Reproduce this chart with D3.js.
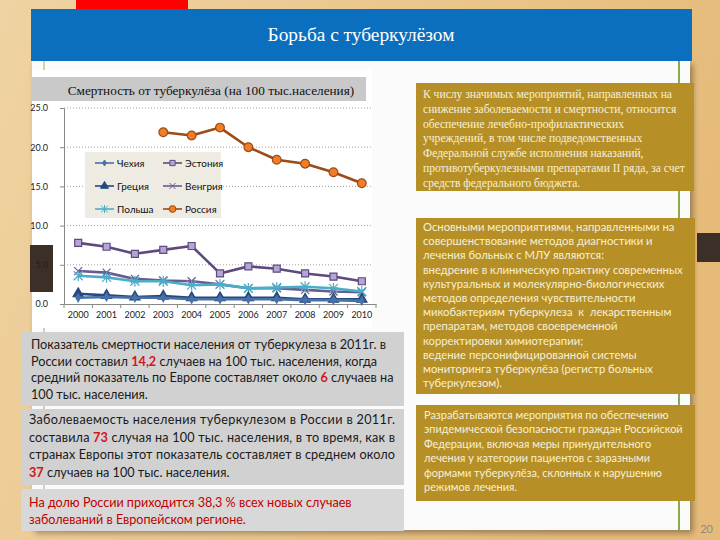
<!DOCTYPE html>
<html><head><meta charset="utf-8">
<script src="https://cdn.jsdelivr.net/npm/d3@7"></script>
<style>body{margin:0;background:#e8c588} svg{display:block}</style>
</head><body><svg id="s" width="720" height="540"></svg>
<script>
// ---------- data ----------
const years = ["2000","2001","2002","2003","2004","2005","2006","2007","2008","2009","2010"];
const czech   = [0.8, 0.9, 0.8, 0.8, 0.6, 0.6, 0.6, 0.6, 0.5, 0.5, 0.4];
const estonia = [7.8, 7.3, 6.4, 6.9, 7.4, 3.9, 4.8, 4.5, 3.9, 3.5, 2.9];
const greece  = [1.3, 1.1, 0.9, 1.0, 0.8, 0.8, 0.8, 0.8, 0.6, 0.6, 0.6];
const hungary = [4.2, 4.0, 3.2, 3.0, 2.9, 2.5, 2.0, 2.0, 1.8, 1.6, 1.5];
const poland  = [3.6, 3.4, 2.9, 2.9, 2.4, 2.5, 2.0, 2.1, 2.2, 2.0, 1.6];
const russia  = [null, null, null, 21.9, 21.5, 22.5, 20.0, 18.4, 17.9, 16.8, 15.4];
const seriesNames = ["Чехия","Эстония","Греция","Венгрия","Польша","Россия"];
const yTicks = [0, 5, 10, 15, 20, 25];

const headerTitle = "Борьба с туберкулёзом";
const chartTitle = "Смертность от туберкулёза (на 100 тыс.населения)";
const pageNumber = "20";

const leftText1 = [
  [["Показатель смертности населения от туберкулеза в 2011г. в"]],
  [["России составил "],["14,2","r"],[" случаев на 100 тыс. населения, когда"]],
  [["средний показатель по Европе составляет около "],["6","r"],[" случаев на"]],
  [["100 тыс. населения."]]
];
const leftText2 = [
  [["Заболеваемость населения туберкулезом в России в 2011г."]],
  [["составила "],["73","r"],[" случая на 100 тыс. населения, в то время, как в"]],
  [["странах Европы этот показатель составляет в среднем около"]],
  [["37","r"],[" случаев на 100 тыс. населения."]]
];
const leftText3 = [
  "На долю России приходится 38,3 % всех новых случаев",
  "заболеваний в Европейском регионе."
];
const goldText1 = [
  "К числу значимых мероприятий, направленных на",
  "снижение заболеваемости и смертности, относится",
  "обеспечение лечебно-профилактических",
  "учреждений, в том числе подведомственных",
  "Федеральной службе исполнения наказаний,",
  "противотуберкулезными препаратами II ряда, за счет",
  "средств федерального бюджета."
];
const goldText2 = [
  "Основными мероприятиями, направленными на",
  "совершенствование методов диагностики и",
  "лечения больных с МЛУ являются:",
  "внедрение в клиническую практику современных",
  "культуральных и молекулярно-биологических",
  "методов определения чувствительности",
  "микобактериям туберкулеза  к  лекарственным",
  "препаратам, методов своевременной",
  "корректировки химиотерапии;",
  "ведение персонифицированной системы",
  "мониторинга туберкулёза (регистр больных",
  "туберкулезом)."
];
const goldText3 = [
  "Разрабатываются мероприятия по обеспечению",
  "эпидемической безопасности граждан Российской",
  "Федерации, включая меры принудительного",
  "лечения у категории пациентов с заразными",
  "формами туберкулёза, склонных к нарушению",
  "режимов лечения."
];

// ---------- styles ----------
const seriesStyle = [
  {line:"#4a70a8", marker:"diamond", fill:"#4a70a8", stroke:"#4a70a8", size:18},
  {line:"#5e4a7c", marker:"square",  fill:"#b4a5d6", stroke:"#5e4a7c", size:7},
  {line:"#24497f", marker:"triangle",fill:"#24497f", stroke:"#24497f", size:45},
  {line:"#6b5a8f", marker:"x",       fill:"none",    stroke:"#6b5a8f", size:4},
  {line:"#4aaec8", marker:"star",    fill:"none",    stroke:"#4aaec8", size:4.5},
  {line:"#9c4a18", marker:"circle",  fill:"#f07e26", stroke:"#9c4a18", size:60}
];
const allSeries = [czech, estonia, greece, hungary, poland, russia];
const SANS = "Lato, 'Open Sans', sans-serif";
const SERIF = "'Liberation Serif', 'DejaVu Serif', serif";

const svg = d3.select("#s");
const defs = svg.append("defs");
const bg = defs.append("linearGradient").attr("id","bg").attr("x1","0").attr("x2","1").attr("y1","0").attr("y2","0.3");
bg.append("stop").attr("offset","0").attr("stop-color","#efd3a2");
bg.append("stop").attr("offset","0.5").attr("stop-color","#ebc78e");
bg.append("stop").attr("offset","1").attr("stop-color","#e6bb7a");
const f = defs.append("filter").attr("id","sh").attr("x","-5%").attr("y","-5%").attr("width","110%").attr("height","110%");
f.append("feGaussianBlur").attr("stdDeviation","3");

function fitText(t, target){
  const w = t.node().getComputedTextLength();
  t.attr("font-size", +t.attr("font-size") * target / w);
}

svg.append("rect").attr("width",720).attr("height",540).attr("fill","url(#bg)");
// decorative
svg.append("rect").attr("x",76).attr("y",0).attr("width",112).attr("height",9).attr("fill","#ff0000");
svg.append("rect").attr("x",697).attr("y",233).attr("width",23).attr("height",29).attr("fill","#3b2f27");
// panel
svg.append("rect").attr("x",35).attr("y",64).attr("width",658).attr("height",469).attr("fill","rgba(0,0,0,0.35)").attr("filter","url(#sh)");
svg.append("rect").attr("x",32).attr("y",61).attr("width",658).attr("height",469).attr("fill","#fbfbfb");
svg.append("line").attr("x1",44).attr("x2",44).attr("y1",61).attr("y2",530).attr("stroke","#c4c39c").attr("stroke-width",1.5);
svg.append("line").attr("x1",679).attr("x2",679).attr("y1",61).attr("y2",530).attr("stroke","#8aab4a").attr("stroke-width",2);
// header
svg.append("rect").attr("x",31).attr("y",9).attr("width",661).attr("height",52).attr("fill","#0a6fbe");
fitText(svg.append("text").attr("x",361).attr("y",41).attr("text-anchor","middle").attr("fill","#ffffff")
  .attr("font-family",SERIF).attr("font-size",16.5).text(headerTitle), 187);

// chart area
svg.append("rect").attr("x",32).attr("y",70).attr("width",340).attr("height",258).attr("fill","#ffffff");
svg.append("rect").attr("x",32).attr("y",77).attr("width",334).attr("height",24).attr("fill","#c9c9c9");
fitText(svg.append("text").attr("x",211).attr("y",95).attr("text-anchor","middle").attr("fill","#111")
  .attr("font-family",SERIF).attr("font-size",12.5).text(chartTitle), 287);
svg.append("rect").attr("x",30).attr("y",245).attr("width",23).attr("height",47).attr("fill","#3b2f27");

const x = d3.scaleBand().domain(years).range([64, 376]);
const y = d3.scaleLinear().domain([0, 25]).range([304, 108]);
const cx = d => x(d) + x.bandwidth()/2;

// gridlines
svg.append("g").selectAll("line").data(yTicks.filter(t=>t>0)).join("line")
  .attr("x1",64).attr("x2",372).attr("y1",d=>y(d)).attr("y2",d=>y(d))
  .attr("stroke","#8a8a8a").attr("stroke-width",0.8).attr("stroke-dasharray","1,2");

const yAxis = svg.append("g").attr("transform","translate(64,0)")
  .call(d3.axisLeft(y).tickValues(yTicks).tickFormat(d3.format(".1f")).tickSize(4).tickPadding(12));
yAxis.select(".domain").attr("stroke","#888");
yAxis.selectAll(".tick line").attr("stroke","#888");
yAxis.selectAll("text").attr("font-family",SANS).attr("font-size",9).attr("fill","#222");

const xAxis = svg.append("g").attr("transform","translate(0,304)")
  .call(d3.axisBottom(x).tickSize(0).tickPadding(8));
xAxis.select(".domain").attr("stroke","#888");
xAxis.selectAll("text").attr("font-family",SANS).attr("font-size",9).attr("fill","#222");
svg.append("g").selectAll("line").data(years.map(d=>x(d)).concat([x.range()[1]])).join("line")
  .attr("x1",d=>d).attr("x2",d=>d).attr("y1",304).attr("y2",308).attr("stroke","#888");

function markerPath(type, size){
  if (type === "x") { const r=size; return `M${-r},${-r}L${r},${r}M${-r},${r}L${r},${-r}`; }
  if (type === "star") { const r=size; return `M${-r},${-r}L${r},${r}M${-r},${r}L${r},${-r}M0,${-r*1.2}L0,${r*1.2}`; }
  if (type === "square") { const r=size/2; return `M${-r},${-r}H${r}V${r}H${-r}Z`; }
  const t = {diamond:d3.symbolDiamond, triangle:d3.symbolTriangle, circle:d3.symbolCircle}[type];
  return d3.symbol().type(t).size(size)();
}

function drawSeries(g, vals, st){
  const pts = years.map((yr,i)=>({yr, v: vals[i]})).filter(p=>p.v!=null);
  g.append("path").datum(pts)
    .attr("d", d3.line().x(p=>cx(p.yr)).y(p=>y(p.v)))
    .attr("fill","none").attr("stroke",st.line).attr("stroke-width",2.6).attr("stroke-linejoin","round");
  g.selectAll("path.m").data(pts).join("path").attr("class","m")
    .attr("transform",p=>`translate(${cx(p.yr)},${y(p.v)})`)
    .attr("d", markerPath(st.marker, st.size))
    .attr("fill",st.fill).attr("stroke",st.stroke).attr("stroke-width",1.2);
}
const plot = svg.append("g");
[1,3,4,2,0,5].forEach(i => drawSeries(plot.append("g"), allSeries[i], seriesStyle[i]));

// legend
const lg = svg.append("g");
lg.append("rect").attr("x",85).attr("y",152).attr("width",136).attr("height",66).attr("fill","#eeece2");
seriesNames.forEach((n,i)=>{
  const col = i%2, row = Math.floor(i/2);
  const lx = col ? 163 : 95, ly = 163 + row*23;
  const st = seriesStyle[i];
  lg.append("line").attr("x1",lx).attr("x2",lx+19).attr("y1",ly).attr("y2",ly).attr("stroke",st.line).attr("stroke-width",1.6);
  lg.append("path").attr("transform",`translate(${lx+9.5},${ly})`)
    .attr("d", markerPath(st.marker, st.marker==="square"||st.marker==="x"||st.marker==="star" ? st.size*0.75 : st.size*0.6))
    .attr("fill",st.fill).attr("stroke",st.stroke).attr("stroke-width",1);
  lg.append("text").attr("x",lx+22).attr("y",ly+3.5).attr("font-family",SANS).attr("font-size",10).attr("fill","#111").text(n);
});

// ---------- text boxes ----------
function fitBlock(g, lines, opt){
  const nodes = [];
  lines.forEach((ln,i)=>{
    const t = g.append("text").attr("x",opt.x).attr("y",opt.y0 + i*opt.lh)
      .attr("font-family",opt.font).attr("font-size",opt.size).attr("fill",opt.color)
      .attr("xml:space","preserve");
    const segs = Array.isArray(ln) ? ln : [[ln]];
    segs.forEach(s=>{
      const ts = t.append("tspan").text(s[0]);
      if (s[1]==="r") ts.attr("fill","#d0161a").attr("font-weight","bold");
    });
    nodes.push(t);
  });
  let sz = opt.size;
  if (opt.ref != null) {
    const w = nodes[opt.ref].node().getComputedTextLength();
    sz = opt.size * opt.target / w;
    nodes.forEach(t=>t.attr("font-size",sz));
  }
  if (opt.justify) nodes.forEach((t,i)=>{ if (opt.justify.includes(i)) t.attr("textLength",opt.jwidth).attr("lengthAdjust","spacing"); });
  return sz;
}

// left gray boxes
svg.append("rect").attr("x",21).attr("y",332).attr("width",383).attr("height",74).attr("fill","#d1d1d1");
svg.append("rect").attr("x",21).attr("y",409).attr("width",383).attr("height",76).attr("fill","#d1d1d1");
svg.append("rect").attr("x",21).attr("y",489).attr("width",383).attr("height",42).attr("fill","#d8d8d8");
const leftSize = fitBlock(svg.append("g"), leftText1, {x:31, y0:349, lh:16.6, font:SANS, size:12, color:"#1a1a1a", ref:2, target:363});
fitBlock(svg.append("g"), leftText2, {x:29, y0:424, lh:17.6, font:SANS, size:leftSize, color:"#1a1a1a", justify:[0,1,2], jwidth:366});
fitBlock(svg.append("g"), leftText3, {x:29, y0:507, lh:17, font:SANS, size:12, color:"#c00000", ref:0, target:323});

// gold boxes
const GOLD = "#b68f27", CREAM = "#f7efd6";
svg.append("rect").attr("x",416).attr("y",83).attr("width",278).attr("height",108).attr("fill",GOLD);
svg.append("rect").attr("x",416).attr("y",218).attr("width",279).attr("height",176).attr("fill",GOLD);
svg.append("rect").attr("x",416).attr("y",405).attr("width",279).attr("height",96).attr("fill",GOLD);
fitBlock(svg.append("g"), goldText1, {x:423, y0:98, lh:14.8, font:SERIF, size:11, color:CREAM, ref:5, target:262});
fitBlock(svg.append("g"), goldText2, {x:423, y0:231, lh:14.2, font:SANS, size:11, color:CREAM, ref:3, target:260});
fitBlock(svg.append("g"), goldText3, {x:424, y0:419, lh:14.4, font:SANS, size:11, color:CREAM, ref:1, target:259});

svg.append("text").attr("x",713).attr("y",533).attr("text-anchor","end").attr("font-family",SANS)
  .attr("font-size",11).attr("fill","#8a8a8a").text(pageNumber);
</script>
</body></html>
